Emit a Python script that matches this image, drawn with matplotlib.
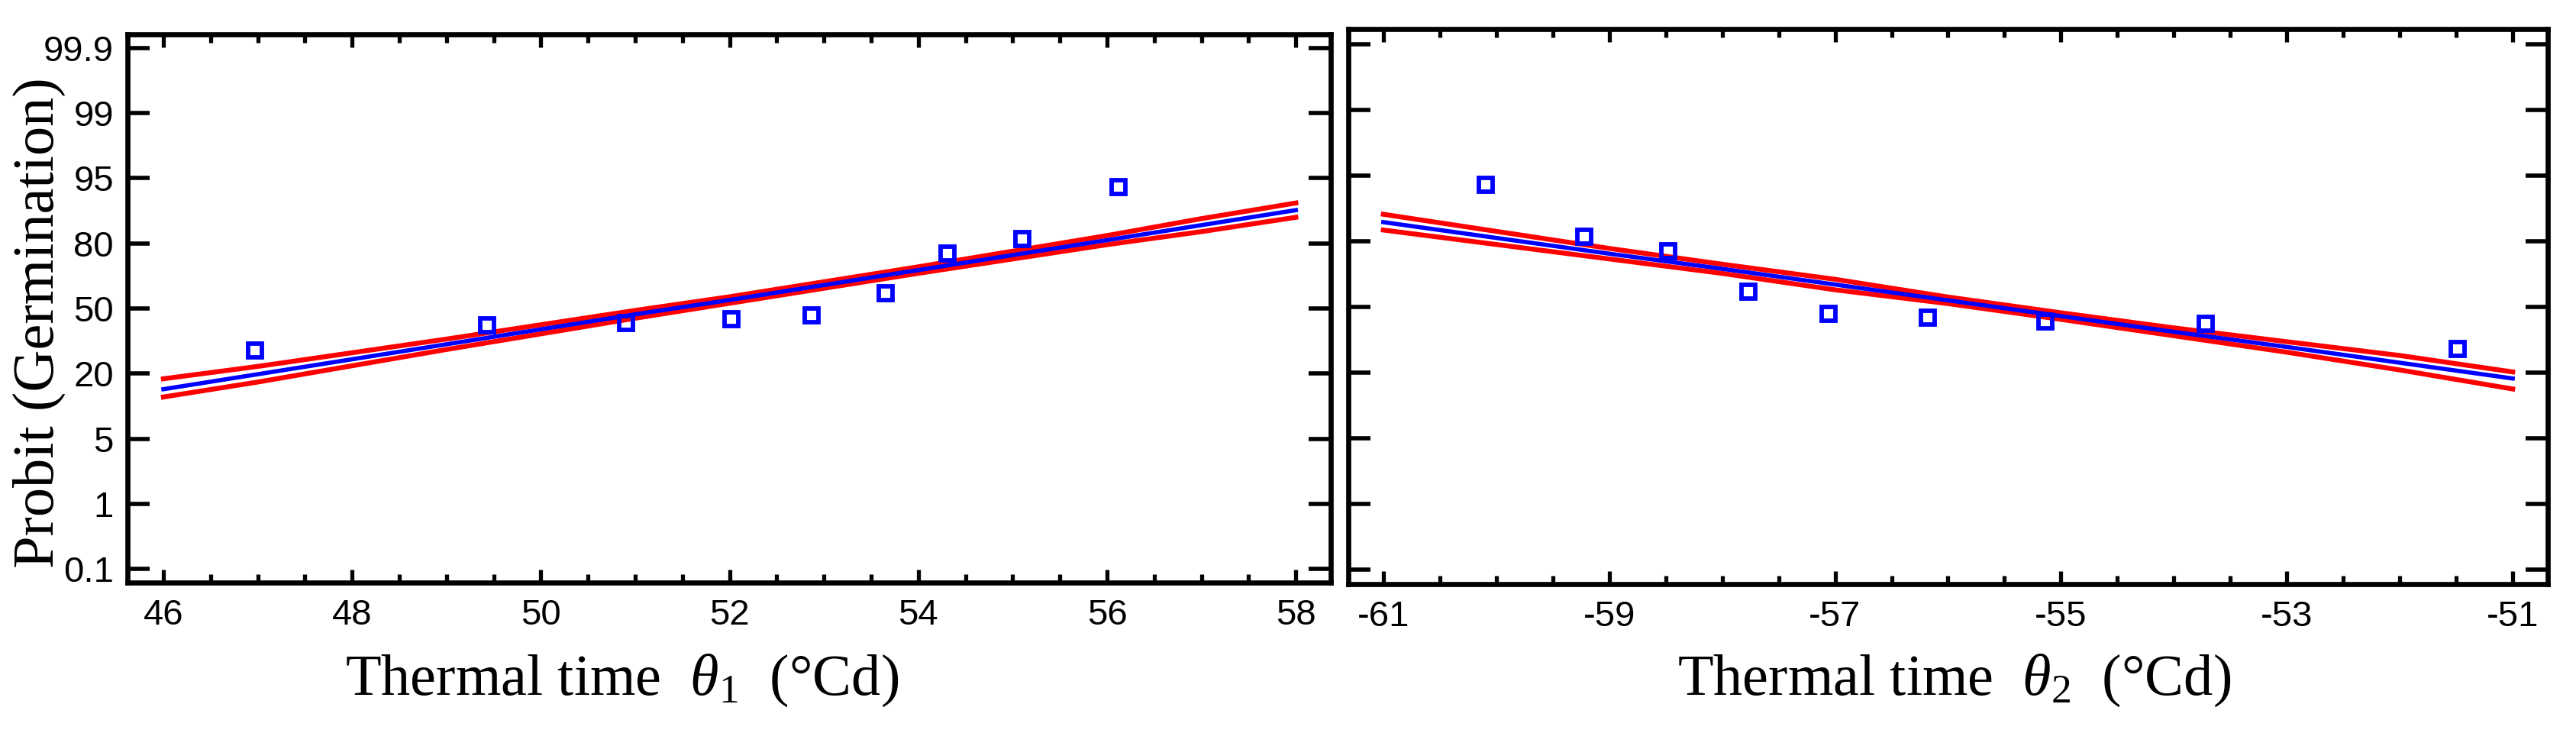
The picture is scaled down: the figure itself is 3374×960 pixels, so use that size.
import matplotlib
matplotlib.use('Agg')
import matplotlib.pyplot as plt
from matplotlib.ticker import MultipleLocator, FixedLocator, FixedFormatter

# ---------------- data (y values are positions on the probit axis, tick index units) -------------
germ_labels = ['0.1', '1', '5', '20', '50', '80', '95', '99', '99.9']
germ_levels = [0, 1, 2, 3, 4, 5, 6, 7, 8]

probit_obs = [3.36, 3.74, 3.78, 3.84, 3.90, 4.23, 4.85, 5.07, 5.86]
theta1_obs = [46.97, 49.43, 50.90, 52.02, 52.87, 53.65, 54.31, 55.10, 56.12]
theta2_obs = [-51.49, -53.72, -55.14, -56.18, -57.06, -57.77, -58.48, -59.22, -60.09]

theta1_fit = [46, 47, 48, 49, 50, 51, 52, 53, 54, 55, 56, 57, 58]
fit1 = [2.76, 2.99, 3.22, 3.45, 3.68, 3.91, 4.13, 4.36, 4.59, 4.82, 5.05, 5.28, 5.51]
upper1 = [2.92, 3.11, 3.32, 3.53, 3.75, 3.97, 4.18, 4.41, 4.64, 4.88, 5.12, 5.38, 5.62]
lower1 = [2.64, 2.87, 3.12, 3.37, 3.61, 3.85, 4.08, 4.31, 4.54, 4.76, 4.98, 5.18, 5.40]

theta2_fit = [-61, -60, -59, -58, -57, -56, -55, -54, -53, -52, -51]
fit2 = [5.29, 5.05, 4.81, 4.58, 4.34, 4.10, 3.86, 3.62, 3.39, 3.15, 2.91]
upper2 = [5.41, 5.15, 4.89, 4.65, 4.42, 4.15, 3.91, 3.68, 3.47, 3.26, 3.01]
lower2 = [5.17, 4.95, 4.73, 4.51, 4.26, 4.05, 3.81, 3.56, 3.31, 3.04, 2.75]

x1_ticks = [46, 48, 50, 52, 54, 56, 58]
x2_ticks = [-61, -59, -57, -55, -53, -51]

# ---------------- style -------------
plt.rcParams['font.family'] = ['Liberation Sans Narrow', 'Liberation Sans', 'DejaVu Sans']
plt.rcParams['mathtext.fontset'] = 'custom'
plt.rcParams['mathtext.rm'] = 'Liberation Serif'
plt.rcParams['mathtext.it'] = 'Liberation Serif:italic'

BLUE = '#0000FF'
RED = '#FF0000'
SPINE_LW = 4.8

fig = plt.figure(figsize=(33.74, 9.6), dpi=100)
ax1 = fig.add_axes([0.04950, 0.20521, 0.46710, 0.74792])
ax2 = fig.add_axes([0.52341, 0.20313, 0.46562, 0.75729])


def style(ax, xticks, xlim, ylim, ylabels):
    ax.set_xlim(*xlim)
    ax.set_ylim(*ylim)
    ax.xaxis.set_major_locator(FixedLocator(xticks))
    ax.xaxis.set_major_formatter(FixedFormatter([str(t) for t in xticks]))
    ax.xaxis.set_minor_locator(MultipleLocator(0.5))
    ax.yaxis.set_major_locator(FixedLocator(germ_levels))
    ax.yaxis.set_major_formatter(FixedFormatter(germ_labels))
    for s in ax.spines.values():
        s.set_linewidth(SPINE_LW)
        s.set_color('black')
    ax.tick_params(axis='x', which='major', direction='in', length=12, width=3.8,
                   top=True, bottom=True, labelsize=34, pad=15)
    ax.tick_params(axis='x', which='minor', direction='in', length=8, width=3.8,
                   top=True, bottom=True)
    ax.tick_params(axis='y', which='major', direction='in', length=21, width=4.0,
                   left=True, right=True, labelsize=34, pad=13, labelleft=ylabels)
    ax.tick_params(axis='y', which='minor', left=False, right=False)


style(ax1, x1_ticks, (45.62, 58.37), (-0.21, 8.21), True)
style(ax2, x2_ticks, (-61.31, -50.69), (-0.22, 8.23), False)

for ax, xf, yf, yu, yl, xo in [(ax1, theta1_fit, fit1, upper1, lower1, theta1_obs),
                               (ax2, theta2_fit, fit2, upper2, lower2, theta2_obs)]:
    ax.plot(xf, yu, color=RED, lw=4.6, solid_joinstyle='round', zorder=3)
    ax.plot(xf, yl, color=RED, lw=4.6, solid_joinstyle='round', zorder=3)
    ax.plot(xf, yf, color=BLUE, lw=4.0, solid_joinstyle='round', zorder=4)
    ax.plot(xo, probit_obs, linestyle='none', marker='s', ms=13, mfc='none',
            mec=BLUE, mew=4.2, zorder=5)

serif = ['Liberation Serif', 'DejaVu Serif']
fig.text(0.0151, 0.5594, 'Probit (Germination)', rotation=90, ha='center', va='center',
         fontsize=55, family=serif)
fig.text(0.2413, 0.05208, r'Thermal time  $\theta_1$  (°Cd)', ha='center', va='baseline',
         fontsize=55, family=serif)
fig.text(0.7587, 0.05208, r'Thermal time  $\theta_2$  (°Cd)', ha='center', va='baseline',
         fontsize=55, family=serif)

fig.savefig('out.png', dpi=100)
